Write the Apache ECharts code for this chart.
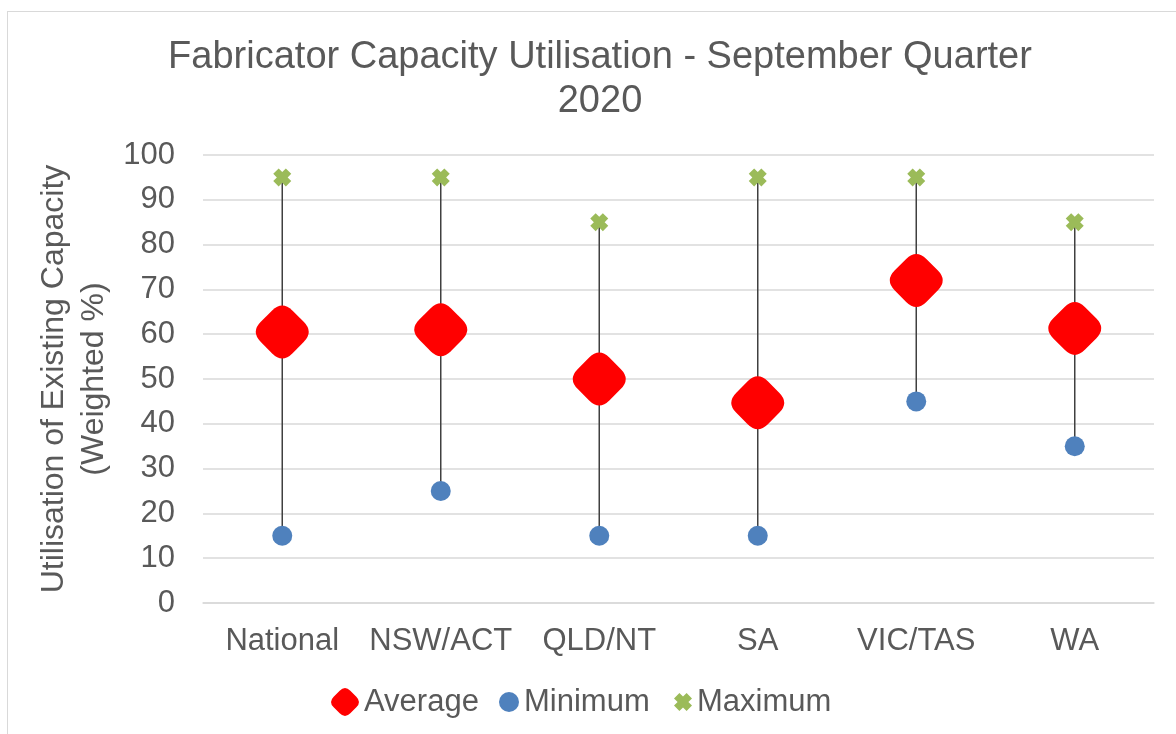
<!DOCTYPE html>
<html>
<head>
<meta charset="utf-8">
<script src="https://cdn.jsdelivr.net/npm/echarts@6/dist/echarts.min.js"></script>
<style>
  html, body { margin: 0; padding: 0; overflow: hidden; background: #fff; }
  #frame { position: absolute; left: 7px; top: 11px; width: 1400px; height: 1000px; border: 1.5px solid #d9d9d9; }
  #main { position: absolute; left: 0; top: 0; width: 1176px; height: 734px; }
</style>
</head>
<body>
<div id="frame"></div>
<div id="main"></div>
<script>
// chart data
const regions = ['National', 'NSW/ACT', 'QLD/NT', 'SA', 'VIC/TAS', 'WA'];
const averageVals = [60.5, 61, 50, 44.7, 72, 61.3];
const minimumVals = [15, 25, 15, 15, 45, 35];
const maximumVals = [95, 95, 85, 95, 95, 85];

const FONT = "'Liberation Sans', Arial, sans-serif";
const TXT = '#595959';

// rounded diamond + thick cross markers
const diamondPath = 'path://M34,16 Q50,0 66,16 L84,34 Q100,50 84,66 L66,84 Q50,100 34,84 L16,66 Q0,50 16,34 Z';
const crossPath = 'path://M3,0 L5,2 L7,0 L10,3 L8,5 L10,7 L7,10 L5,8 L3,10 L0,7 L2,5 L0,3 Z';

const rangeData = regions.map((r, i) => [i, minimumVals[i], maximumVals[i]]);

const chart = echarts.init(document.getElementById('main'));
chart.setOption({
  animation: false,
  textStyle: { fontFamily: FONT },
  title: {
    text: 'Fabricator Capacity Utilisation - September Quarter\n2020',
    left: 595,
    top: 31,
    textAlign: 'center',
    textStyle: { fontFamily: FONT, fontSize: 38, fontWeight: 'normal', color: TXT, lineHeight: 44 }
  },
  legend: [
    {
      data: [{ name: 'Average', icon: diamondPath }],
      left: 326, top: 681, itemWidth: 28, itemHeight: 28,
      textStyle: { fontFamily: FONT, fontSize: 31, color: TXT, lineHeight: 32 }
    },
    {
      data: [{ name: 'Minimum', icon: 'circle' }],
      left: 494, top: 681, itemWidth: 20, itemHeight: 20,
      textStyle: { fontFamily: FONT, fontSize: 31, color: TXT, lineHeight: 32 }
    },
    {
      data: [{ name: 'Maximum', icon: crossPath }],
      left: 669, top: 681, itemWidth: 18, itemHeight: 18,
      textStyle: { fontFamily: FONT, fontSize: 31, color: TXT, lineHeight: 32 }
    }
  ],
  grid: { left: 203, right: 22, top: 155, bottom: 131, outerBoundsMode: 'none' },
  xAxis: {
    type: 'category',
    data: regions,
    axisLine: { show: true, lineStyle: { color: '#d9d9d9', width: 1.5 } },
    axisTick: { show: false },
    axisLabel: { interval: 0, fontFamily: FONT, fontSize: 31, color: TXT, margin: 23 }
  },
  yAxis: {
    type: 'value',
    min: 0, max: 100, interval: 10,
    name: 'Utilisation of Existing Capacity\n(Weighted %)',
    nameLocation: 'middle',
    nameGap: 89,
    nameMoveOverlap: false,
    nameTextStyle: { fontFamily: FONT, fontSize: 32, color: TXT, lineHeight: 40 },
    axisLine: { show: false },
    axisTick: { show: false },
    axisLabel: { fontFamily: FONT, fontSize: 31, color: TXT, margin: 28 },
    splitLine: { lineStyle: { color: '#d9d9d9', width: 1.5 } }
  },
  series: [
    {
      name: 'range',
      type: 'custom',
      data: rangeData,
      encode: { x: 0, y: [1, 2] },
      z: 1,
      renderItem: function (params, api) {
        const lo = api.coord([api.value(0), api.value(1)]);
        const hi = api.coord([api.value(0), api.value(2)]);
        return {
          type: 'line',
          shape: { x1: lo[0], y1: lo[1], x2: hi[0], y2: hi[1] },
          style: { stroke: '#404040', lineWidth: 1.5 }
        };
      }
    },
    {
      name: 'Average', type: 'scatter', data: averageVals, z: 3,
      symbol: diamondPath, symbolSize: 53,
      itemStyle: { color: '#ff0000', opacity: 1 }
    },
    {
      name: 'Minimum', type: 'scatter', data: minimumVals, z: 3,
      symbol: 'circle', symbolSize: 20,
      itemStyle: { color: '#4f81bd', opacity: 1 }
    },
    {
      name: 'Maximum', type: 'scatter', data: maximumVals, z: 3,
      symbol: crossPath, symbolSize: 18,
      itemStyle: { color: '#9bbb59', opacity: 1 }
    }
  ]
});
</script>
</body>
</html>
